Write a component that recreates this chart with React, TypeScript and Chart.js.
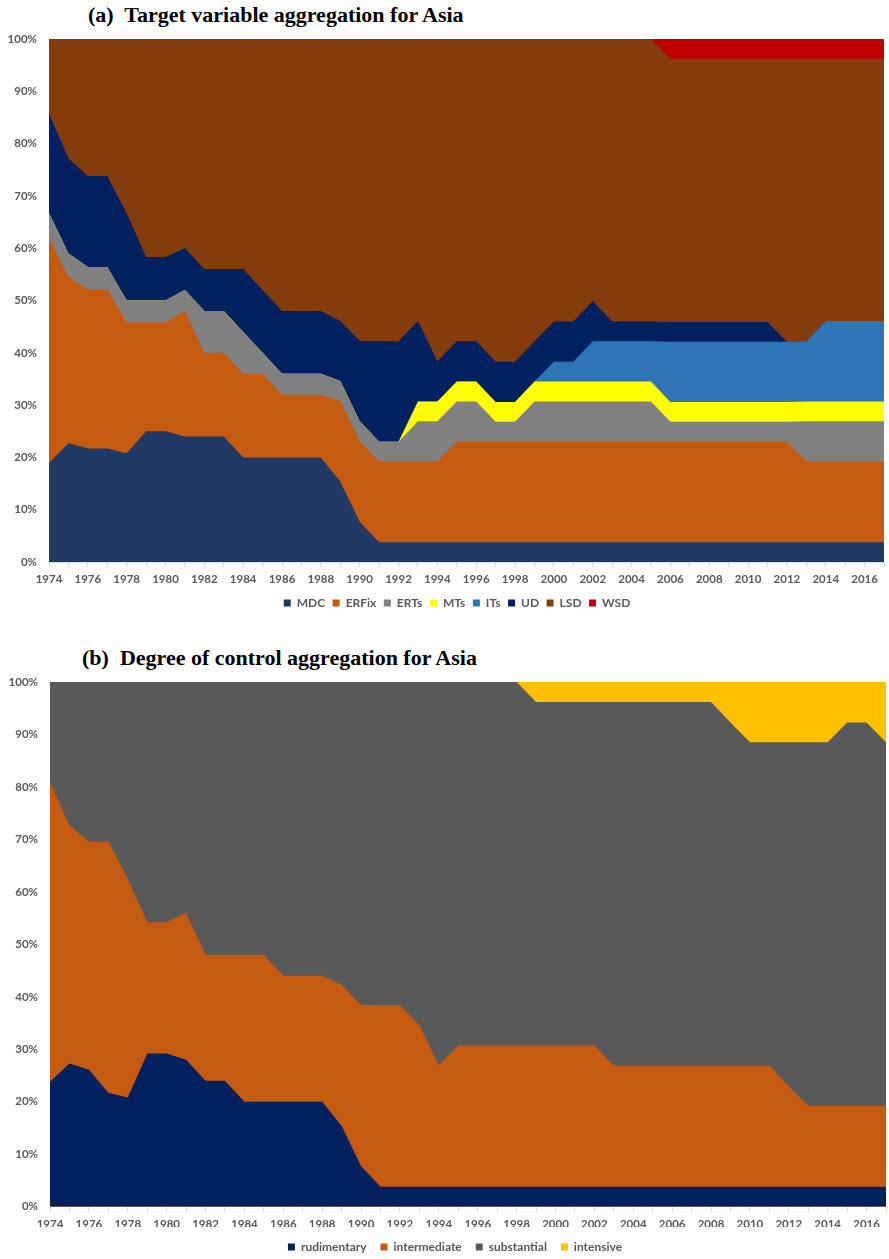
import React, { useEffect, useRef } from "react";
import { Chart, registerables } from "chart.js";

Chart.register(...registerables);
Chart.defaults.font.family = "Lato";

const years = [
  "1974", "1975", "1976", "1977", "1978", "1979", "1980", "1981", "1982", "1983", "1984",
  "1985", "1986", "1987", "1988", "1989", "1990", "1991", "1992", "1993", "1994", "1995",
  "1996", "1997", "1998", "1999", "2000", "2001", "2002", "2003", "2004", "2005", "2006",
  "2007", "2008", "2009", "2010", "2011", "2012", "2013", "2014", "2015", "2016", "2017",
];

// Panel (a): share of Asian economies by target variable (% of countries)
const mdc = [
  19.0, 22.7, 21.7, 21.7, 20.8, 25.0, 25.0, 24, 24, 24, 20, 20, 20, 20, 20, 15.4, 7.7,
  3.8, 3.8, 3.8, 3.8, 3.8, 3.8, 3.8, 3.8, 3.8, 3.8, 3.8, 3.8, 3.8, 3.8, 3.8, 3.8, 3.8,
  3.8, 3.8, 3.8, 3.8, 3.8, 3.8, 3.8, 3.8, 3.8, 3.8,
];
const erFix = [
  42.9, 31.8, 30.4, 30.4, 25.0, 20.8, 20.8, 24, 16, 16, 16, 16, 12, 12, 12, 15.4, 15.4,
  15.4, 15.4, 15.4, 15.4, 19.2, 19.2, 19.2, 19.2, 19.2, 19.2, 19.2, 19.2, 19.2, 19.2, 19.2,
  19.2, 19.2, 19.2, 19.2, 19.2, 19.2, 19.2, 15.4, 15.4, 15.4, 15.4, 15.4,
];
const erTs = [
  4.8, 4.5, 4.3, 4.3, 4.2, 4.2, 4.2, 4, 8, 8, 8, 4, 4, 4, 4, 3.8, 3.8, 3.8, 3.8, 7.7, 7.7,
  7.7, 7.7, 3.8, 3.8, 7.7, 7.7, 7.7, 7.7, 7.7, 7.7, 7.7, 3.8, 3.8, 3.8, 3.8, 3.8, 3.8, 3.8,
  7.7, 7.7, 7.7, 7.7, 7.7,
];
const mTs = [
  0, 0, 0, 0, 0, 0, 0, 0, 0, 0, 0, 0, 0, 0, 0, 0, 0, 0, 0, 3.8, 3.8, 3.8, 3.8, 3.8, 3.8,
  3.8, 3.8, 3.8, 3.8, 3.8, 3.8, 3.8, 3.8, 3.8, 3.8, 3.8, 3.8, 3.8, 3.8, 3.8, 3.8, 3.8, 3.8, 3.8,
];
const iTs = [
  0, 0, 0, 0, 0, 0, 0, 0, 0, 0, 0, 0, 0, 0, 0, 0, 0, 0, 0, 0, 0, 0, 0, 0, 0, 0, 3.8, 3.8,
  7.7, 7.7, 7.7, 7.7, 11.5, 11.5, 11.5, 11.5, 11.5, 11.5, 11.5, 11.5, 15.4, 15.4, 15.4, 15.4,
];
const ud = [
  19.0, 18.2, 17.4, 17.4, 16.7, 8.3, 8.3, 8, 8, 8, 12, 12, 12, 12, 12, 11.5, 15.4, 19.2,
  19.2, 15.4, 7.7, 7.7, 7.7, 7.7, 7.7, 7.7, 7.7, 7.7, 7.7, 3.8, 3.8, 3.8, 3.8, 3.8, 3.8,
  3.8, 3.8, 3.8, 0, 0, 0, 0, 0, 0,
];
const lsd = [
  14.3, 22.8, 26.2, 26.2, 33.3, 41.7, 41.7, 40, 44, 44, 44, 48, 52, 52, 52, 53.9, 57.7,
  57.8, 57.8, 53.9, 61.6, 57.8, 57.8, 61.7, 61.7, 57.8, 54.0, 54.0, 50.1, 54.0, 54.0, 54.0,
  50.3, 50.3, 50.3, 50.3, 50.3, 50.3, 54.1, 54.0, 50.1, 50.1, 50.1, 50.1,
];
const wsd = [
  0, 0, 0, 0, 0, 0, 0, 0, 0, 0, 0, 0, 0, 0, 0, 0, 0, 0, 0, 0, 0, 0, 0, 0, 0, 0, 0, 0, 0,
  0, 0, 0, 3.8, 3.8, 3.8, 3.8, 3.8, 3.8, 3.8, 3.8, 3.8, 3.8, 3.8, 3.8,
];

// Panel (b): share of Asian economies by degree of control (% of countries)
const rudimentary = [
  23.8, 27.3, 26.1, 21.7, 20.8, 29.2, 29.2, 28, 24, 24, 20, 20, 20, 20, 20, 15.4, 7.7,
  3.8, 3.8, 3.8, 3.8, 3.8, 3.8, 3.8, 3.8, 3.8, 3.8, 3.8, 3.8, 3.8, 3.8, 3.8, 3.8, 3.8,
  3.8, 3.8, 3.8, 3.8, 3.8, 3.8, 3.8, 3.8, 3.8, 3.8,
];
const intermediate = [
  57.1, 45.4, 43.5, 47.9, 41.7, 25.0, 25.0, 28, 24, 24, 28, 28, 24, 24, 24, 26.9, 30.8,
  34.6, 34.6, 30.8, 23.1, 26.9, 26.9, 26.9, 26.9, 26.9, 26.9, 26.9, 26.9, 23.1, 23.1, 23.1,
  23.1, 23.1, 23.1, 23.1, 23.1, 23.1, 19.2, 15.4, 15.4, 15.4, 15.4, 15.4,
];
const substantial = [
  19.1, 27.3, 30.4, 30.4, 37.5, 45.8, 45.8, 44, 52, 52, 52, 52, 56, 56, 56, 57.7, 61.5,
  61.6, 61.6, 65.4, 73.1, 69.3, 69.3, 69.3, 69.3, 65.5, 65.5, 65.5, 65.5, 69.3, 69.3, 69.3,
  69.3, 69.3, 69.3, 65.4, 61.6, 61.6, 65.5, 69.3, 69.3, 73.1, 73.1, 69.3,
];
const intensive = [
  0, 0, 0, 0, 0, 0, 0, 0, 0, 0, 0, 0, 0, 0, 0, 0, 0, 0, 0, 0, 0, 0, 0, 0, 0, 3.8, 3.8,
  3.8, 3.8, 3.8, 3.8, 3.8, 3.8, 3.8, 3.8, 7.7, 11.5, 11.5, 11.5, 11.5, 11.5, 7.7, 7.7, 11.5,
];

type Series = { label: string; data: number[]; color: string };

const targetSeries: Series[] = [
  { label: "MDC", data: mdc, color: "#203864" },
  { label: "ERFix", data: erFix, color: "#C55A11" },
  { label: "ERTs", data: erTs, color: "#808080" },
  { label: "MTs", data: mTs, color: "#FFFF00" },
  { label: "ITs", data: iTs, color: "#2E75B6" },
  { label: "UD", data: ud, color: "#002060" },
  { label: "LSD", data: lsd, color: "#843C0C" },
  { label: "WSD", data: wsd, color: "#C00000" },
];

const controlSeries: Series[] = [
  { label: "rudimentary", data: rudimentary, color: "#002060" },
  { label: "intermediate", data: intermediate, color: "#C55A11" },
  { label: "substantial", data: substantial, color: "#595959" },
  { label: "intensive", data: intensive, color: "#FFC000" },
];

const AXIS_GREY = "#595959";
const LINE_GREY = "#D9D9D9";

// Moves the bottom legend sideways after layout so it sits under the plot like the printed figure.
const legendOffset = {
  id: "legendOffset",
  afterLayout(chart: any, _args: any, opts: any) {
    const legend = chart.legend;
    if (legend && opts && opts.dx) {
      legend.left += opts.dx;
      legend.right += opts.dx;
    }
  },
};

interface PanelProps {
  top: number;
  width: number;
  height: number;
  series: Series[];
  padRight: number;
  padTop: number;
  yAxisWidth: number;
  xAxisHeight: number;
  xTickPadding: number;
  legendPadding: number;
  legendDx: number;
}

function StackedPanel(props: PanelProps) {
  const ref = useRef<HTMLCanvasElement>(null);

  useEffect(() => {
    if (!ref.current) return;
    const chart = new Chart(ref.current, {
      type: "line",
      data: {
        labels: years,
        datasets: props.series.map((s) => ({
          label: s.label,
          data: s.data,
          backgroundColor: s.color,
          borderColor: "rgba(0,0,0,0)",
          borderWidth: 0,
          fill: "origin",
          pointRadius: 0,
          pointHoverRadius: 0,
          tension: 0,
        })),
      },
      plugins: [legendOffset],
      options: {
        responsive: false,
        animation: false,
        devicePixelRatio: 1,
        events: [],
        layout: {
          padding: { left: 0, right: props.padRight, top: props.padTop, bottom: 0 },
        },
        plugins: {
          legendOffset: { dx: props.legendDx },
          legend: {
            position: "bottom",
            labels: {
              boxWidth: 7,
              boxHeight: 7,
              padding: props.legendPadding,
              color: AXIS_GREY,
              font: { family: "Lato", size: 12, weight: "bold" },
            },
          },
          tooltip: { enabled: false },
        },
        scales: {
          x: {
            type: "category",
            offset: false,
            afterFit: (scale: any) => {
              scale.height = props.xAxisHeight;
            },
            grid: {
              display: true,
              drawOnChartArea: false,
              drawTicks: true,
              tickLength: 5,
              color: LINE_GREY,
            },
            border: { display: true, color: LINE_GREY, width: 1 },
            ticks: {
              autoSkip: false,
              maxRotation: 0,
              minRotation: 0,
              padding: props.xTickPadding,
              color: AXIS_GREY,
              font: { family: "Lato", size: 11.5, weight: "bold" },
              callback: (_v: any, i: number) => (i % 2 === 0 ? years[i] : ""),
            },
          },
          y: {
            stacked: true,
            min: 0,
            max: 100,
            afterFit: (scale: any) => {
              scale.width = props.yAxisWidth;
            },
            grid: { display: false, drawTicks: false },
            border: { display: false },
            ticks: {
              stepSize: 10,
              padding: 12,
              color: AXIS_GREY,
              font: { family: "Lato", size: 11.5, weight: "bold" },
              callback: (v: any) => `${v}%`,
            },
          },
        },
      },
    } as any);
    return () => chart.destroy();
  }, []);

  return (
    <canvas
      ref={ref}
      width={props.width}
      height={props.height}
      style={{
        position: "absolute",
        left: 0,
        top: props.top,
        width: props.width,
        height: props.height,
      }}
    />
  );
}

const titleStyle: React.CSSProperties = {
  position: "absolute",
  left: 88,
  fontFamily: '"Liberation Serif", "Times New Roman", serif',
  fontWeight: "bold",
  fontSize: 22,
  lineHeight: "22px",
  whiteSpace: "pre",
  color: "#000",
};

export default function App() {
  return (
    <div
      style={{
        position: "absolute",
        left: 0,
        top: 0,
        width: 889,
        height: 1259,
        overflow: "hidden",
        background: "#fff",
      }}
    >
      <div style={{ ...titleStyle, top: 4 }}>(a)  Target variable aggregation for Asia</div>
      <StackedPanel
        top={0}
        width={889}
        height={619}
        series={targetSeries}
        padRight={5}
        padTop={39}
        yAxisWidth={49}
        xAxisHeight={27.5}
        xTickPadding={5}
        legendPadding={7.5}
        legendDx={15}
      />
      <div style={{ ...titleStyle, left: 82, top: 647 }}>(b)  Degree of control aggregation for Asia</div>
      <StackedPanel
        top={640}
        width={892}
        height={623}
        series={controlSeries}
        padRight={2}
        padTop={42}
        yAxisWidth={50}
        xAxisHeight={20.3}
        xTickPadding={6}
        legendPadding={14}
        legendDx={10}
      />
    </div>
  );
}
